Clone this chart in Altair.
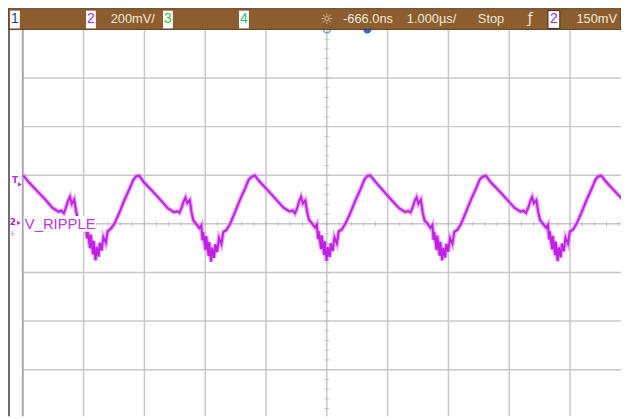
import altair as alt
import pandas as pd
import numpy as np

# ---------------- data (time in microseconds, voltage in mV) ----------------
PEAK_TIMES_US = [-5.034, -3.134, -1.234, 0.666, 2.566, 4.466]
OFFSETS_US = [0.00, 0.05, 0.13, 0.26, 0.39, 0.52, 0.62, 0.67, 0.71, 0.75,
              0.78, 0.81, 0.84, 0.88, 0.91, 0.94, 0.99, 1.04, 1.07, 1.09,
              1.10, 1.14, 1.15, 1.19, 1.20, 1.23, 1.25, 1.28, 1.30, 1.33,
              1.36, 1.40, 1.43, 1.48, 1.54, 1.62, 1.70, 1.79, 1.85]
V_PERIOD_1 = [195, 197, 172, 138, 104, 66, 50, 54, 44, 72, 96, 112, 82, 100, 52, 18, 4, -14, -2, -60,
              -28, -100, -44, -126, -70, -150, -95, -135, -78, -110, -55, -78, -30, -20, 0, 45, 95, 145, 180]
V_PERIOD_2 = [196, 198, 170, 136, 101, 64, 48, 52, 46, 70, 92, 108, 86, 98, 46, 14, -2, -18, -6, -68,
              -34, -108, -50, -132, -75, -156, -98, -140, -84, -116, -58, -83, -34, -26, -2, 46, 96, 146, 182]
V_PERIOD_3 = [194, 199, 173, 139, 103, 67, 51, 55, 43, 68, 94, 111, 84, 96, 50, 17, 2, -15, -3, -63,
              -30, -104, -47, -128, -72, -152, -96, -137, -80, -112, -56, -80, -31, -23, 1, 44, 94, 144, 181]
V_PERIOD_4 = [197, 199, 174, 137, 100, 65, 49, 53, 47, 71, 95, 109, 83, 99, 48, 15, 1, -17, -5, -66,
              -33, -107, -48, -131, -74, -150, -99, -139, -82, -115, -59, -82, -33, -25, -1, 47, 97, 147, 183]
V_PERIOD_5 = [195, 198, 171, 138, 102, 66, 50, 54, 45, 69, 93, 110, 85, 97, 49, 16, 0, -16, -4, -64,
              -31, -105, -49, -129, -73, -153, -97, -138, -81, -113, -57, -81, -32, -24, 0, 45, 95, 145, 181]
V_PERIOD_6 = [196, 198, 172, 137, 103, 66]
PERIODS = [V_PERIOD_1, V_PERIOD_2, V_PERIOD_3, V_PERIOD_4, V_PERIOD_5, V_PERIOD_6]

GRID_T = [-4, -3, -2, -1, 0, 1, 2, 3, 4]          # vertical graticule lines (us)
GRID_V = [-600, -400, -200, 0, 200, 400, 600]      # horizontal graticule lines (mV)
REF_MARKER_T = [0.0]        # horizontal reference (screen centre)
TRIG_MARKER_T = [0.666]     # trigger position

rows = []
for peak, volts in zip(PEAK_TIMES_US, PERIODS):
    for off, v in zip(OFFSETS_US, volts):
        rows.append({"t": round(peak + off, 3), "v": v})
trace = pd.DataFrame(rows)

X_DOM = [-5.0, 4.838]
Y_DOM = [-792, 800]
W, H = 606, 392
OX, OY = 23, 27  # page position of plot origin

xs = alt.Scale(domain=X_DOM, nice=False, zero=False)
ys = alt.Scale(domain=Y_DOM, nice=False, zero=False)

BAR_FONT = "Liberation Sans"
CREAM = "#F3E9D6"
PURPLE = "#C21FE6"
GRID_COLOR = "#C8C8C8"


def one():
    return alt.Chart(pd.DataFrame({"s": [""]}))


def txt(s, px, py, color, size=13, font=BAR_FONT, align="left", weight="normal"):
    return alt.Chart(pd.DataFrame({"s": [s]})).mark_text(
        align=align, baseline="middle", color=color, fontSize=size, font=font, fontWeight=weight
    ).encode(text="s:N", x=alt.value(px - OX), y=alt.value(py - OY))


def box(x0, x1, y0, y1, fill, stroke=None):
    kw = {"fill": fill}
    if stroke:
        kw.update(stroke=stroke, strokeWidth=1)
    return one().mark_rect(**kw).encode(
        x=alt.value(x0 - OX), x2=alt.value(x1 - OX), y=alt.value(y0 - OY), y2=alt.value(y1 - OY))


vgrid = alt.Chart(pd.DataFrame({"t": GRID_T})).mark_rule(color=GRID_COLOR, strokeWidth=1.5).encode(
    x=alt.X("t:Q", scale=xs, axis=None))
hgrid = alt.Chart(pd.DataFrame({"v": GRID_V})).mark_rule(color=GRID_COLOR, strokeWidth=1.5).encode(
    y=alt.Y("v:Q", scale=ys, axis=None))

left_grid = one().mark_rule(color="#A8A8A8", strokeWidth=2).encode(
    x=alt.value(0), y=alt.value(0), y2=alt.value(H))
left_border = one().mark_rule(color="#3C3C3C", strokeWidth=1.5).encode(
    x=alt.value(9 - OX), y=alt.value(-19), y2=alt.value(H))

hticks = alt.Chart(pd.DataFrame({"t": np.round(np.arange(-5, 4.85, 0.2), 2)})).mark_tick(
    orient="vertical", size=5, thickness=1, color="#B0B0B0").encode(
    x=alt.X("t:Q", scale=xs, axis=None), y=alt.YDatum(0, scale=ys, axis=None))
vticks = alt.Chart(pd.DataFrame({"v": np.arange(-760, 800, 40)})).mark_tick(
    orient="horizontal", size=5, thickness=1, color="#B0B0B0").encode(
    x=alt.XDatum(0, scale=xs, axis=None), y=alt.Y("v:Q", scale=ys, axis=None))

fuzz = alt.Chart(trace).mark_line(clip=True, color="#DE95F3", strokeWidth=4.6, opacity=0.8).encode(
    x=alt.X("t:Q", scale=xs, axis=None), y=alt.Y("v:Q", scale=ys, axis=None))
line = alt.Chart(trace).mark_line(clip=True, color=PURPLE, strokeWidth=2.0).encode(
    x=alt.X("t:Q", scale=xs, axis=None), y=alt.Y("v:Q", scale=ys, axis=None))

ref_mark = alt.Chart(pd.DataFrame({"t": REF_MARKER_T})).mark_point(
    shape="circle", filled=False, size=45, color="#3F7FDB", strokeWidth=1.5).encode(
    x=alt.X("t:Q", scale=xs, axis=None), y=alt.value(0))
trig_mark = alt.Chart(pd.DataFrame({"t": TRIG_MARKER_T})).mark_point(
    shape="circle", filled=True, size=70, color="#2E6BD9", opacity=1).encode(
    x=alt.X("t:Q", scale=xs, axis=None), y=alt.value(0))

bar = box(8, 629, 6, 27, "#8C5D2F", "#5A3C1C")

layers = [vgrid, hgrid, left_grid, hticks, vticks, left_border, fuzz, line, ref_mark, trig_mark, bar,
          box(10, 20, 8, 26, "#FFFFFF"), txt("1", 15, 17, "#1E3C96", 14, "Liberation Sans", "center"),
          box(87, 97, 8, 26, "#FFFFFF"), txt("2", 92, 17, "#B02BD8", 14, "Liberation Sans", "center"),
          txt("200mV/", 112, 17, CREAM, 13),
          box(165, 175, 8, 26, "#FFFFFF"), txt("3", 170, 17, "#3DBE3D", 14, "Liberation Sans", "center"),
          box(242, 252, 8, 26, "#FFFFFF"), txt("4", 247, 17, "#2FB894", 14, "Liberation Sans", "center"),
          txt("\u263c", 331, 17, "#D9C9A6", 15, "DejaVu Sans", "center"),
          txt("-666.0ns", 398, 17, CREAM, 13, align="right"),
          txt("1.000\u00b5s/", 412, 17, CREAM, 13),
          txt("Stop", 484, 17, CREAM, 13),
          txt("\u0192", 537, 17, CREAM, 14, "DejaVu Sans", "center"),
          box(555, 567, 8, 26, "#FFFFFF", "#3A2A14"), txt("2", 561, 17, "#B02BD8", 14, "Liberation Sans", "center"),
          txt("150mV", 625, 17, CREAM, 13, align="right"),
          # channel markers on the left
          txt("T", 15, 180, PURPLE, 9, "DejaVu Sans", "center", "bold"),
          one().mark_point(shape="triangle-right", filled=True, size=18, color=PURPLE, opacity=1).encode(
              x=alt.value(20 - OX), y=alt.value(184 - OY)),
          txt("2", 13, 222, PURPLE, 9, "DejaVu Sans", "center", "bold"),
          one().mark_point(shape="triangle-right", filled=True, size=18, color=PURPLE, opacity=1).encode(
              x=alt.value(19 - OX), y=alt.value(223 - OY)),
          txt("\u23da", 13, 234, PURPLE, 7, "DejaVu Sans", "center"),
          box(24, 97, 216, 232, "#FFFFFF"),
          txt("V_RIPPLE", 25, 224, "#C433E4", 15, "Liberation Sans", "left"),
          ]

chart = alt.layer(*layers).properties(
    width=W, height=H,
    padding={"left": 15, "top": 19, "right": 0, "bottom": 0},
    autosize=alt.AutoSizeParams(type="none"),
    background="white",
).configure_view(stroke=None)

chart.save("out.html", embed_options={"renderer": "svg", "actions": False})
